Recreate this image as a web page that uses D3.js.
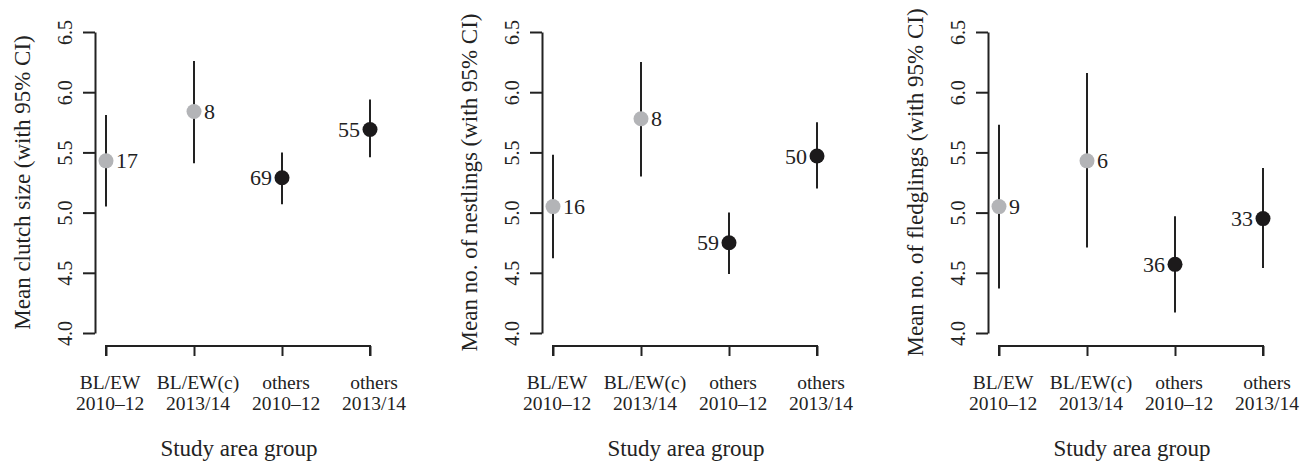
<!DOCTYPE html>
<html><head><meta charset="utf-8">
<script src="https://cdn.jsdelivr.net/npm/d3@7"></script>
<style>body{margin:0;background:#fff}</style>
</head><body><svg id="c" width="1311" height="464" style="font-family:'Liberation Serif',serif"></svg>
<script>
const categories = [["BL/EW","2010\u201312"],["BL/EW(c)","2013/14"],["others","2010\u201312"],["others","2013/14"]];
const yTicks = [4.0,4.5,5.0,5.5,6.0,6.5];
const groupColor = ["grey","grey","black","black"];
const labelSide = ["right","right","left","left"];
const yTitles = ["Mean clutch size (with 95% CI)","Mean no. of nestlings (with 95% CI)","Mean no. of fledglings (with 95% CI)"];
const xTitle = "Study area group";
// panel 1: clutch size
const clutchMean = [5.43, 5.84, 5.29, 5.69];
const clutchLo   = [5.05, 5.41, 5.07, 5.46];
const clutchHi   = [5.81, 6.26, 5.50, 5.94];
const clutchN    = [17, 8, 69, 55];
// panel 2: nestlings
const nestMean = [5.05, 5.78, 4.75, 5.47];
const nestLo   = [4.62, 5.30, 4.49, 5.20];
const nestHi   = [5.48, 6.25, 5.00, 5.75];
const nestN    = [16, 8, 59, 50];
// panel 3: fledglings
const fledMean = [5.05, 5.43, 4.57, 4.95];
const fledLo   = [4.37, 4.71, 4.17, 4.54];
const fledHi   = [5.73, 6.16, 4.97, 5.37];
const fledN    = [9, 6, 36, 33];

const panels = [
  {mean:clutchMean, lo:clutchLo, hi:clutchHi, n:clutchN, title:yTitles[0], x0:106},
  {mean:nestMean, lo:nestLo, hi:nestHi, n:nestN, title:yTitles[1], x0:553},
  {mean:fledMean, lo:fledLo, hi:fledHi, n:fledN, title:yTitles[2], x0:999}
];
const colors = {grey:"#b3b4b7", black:"#1c1a1b"};
const FONT = "Liberation Serif, serif";
const svg = d3.select("#c");
const y = d3.scaleLinear().domain([4,6.5]).range([333,32]);
const ink = "#222";
function txt(sel){ return sel.attr("font-family",FONT).style("font-family","'Liberation Serif', serif").attr("fill",ink); }

panels.forEach(p => {
  const g = svg.append("g");
  const x = d3.scalePoint().domain(d3.range(categories.length)).range([p.x0, p.x0+264]);
  const ax = p.x0 - 11;
  // y axis
  const ya = g.append("g").attr("transform",`translate(${ax},0)`)
    .call(d3.axisLeft(y).tickValues(yTicks).tickSize(12).tickSizeOuter(0).tickFormat(d3.format(".1f")));
  ya.attr("font-family",FONT);
  ya.select(".domain").attr("stroke",ink).attr("stroke-width",2);
  ya.selectAll(".tick line").attr("stroke",ink).attr("stroke-width",2);
  txt(ya.selectAll(".tick text")).attr("x",null).attr("dy",null)
    .attr("transform","translate(-30,0) rotate(-90)")
    .attr("text-anchor","middle").attr("dominant-baseline","central")
    .attr("font-size","20px");
  // x axis
  const xa = g.append("g").attr("transform",`translate(0,346)`)
    .call(d3.axisBottom(x).tickSize(10).tickSizeOuter(0).tickFormat(""));
  xa.select(".domain").attr("stroke",ink).attr("stroke-width",2).attr("d",`M${p.x0},10V0H${p.x0+264}V10`);
  xa.selectAll(".tick line").attr("stroke",ink).attr("stroke-width",2);
  categories.forEach((c,i) => {
    const t = txt(g.append("text")).attr("text-anchor","middle").attr("font-size","19.5px");
    t.append("tspan").attr("x",x(i)+4).attr("y",389).text(c[0]);
    t.append("tspan").attr("x",x(i)+4).attr("y",410).text(c[1]);
  });
  // titles
  txt(g.append("text")).attr("transform",`translate(${ax-73},182.5) rotate(-90)`)
    .attr("text-anchor","middle").attr("dominant-baseline","central")
    .attr("font-size","23px").text(p.title);
  txt(g.append("text")).attr("x",p.x0+133).attr("y",456).attr("text-anchor","middle")
    .attr("font-size","23px").text(xTitle);
  // error bars
  g.selectAll("line.ci").data(p.mean).enter().append("line")
    .attr("x1",(d,i)=>x(i)).attr("x2",(d,i)=>x(i))
    .attr("y1",(d,i)=>y(p.lo[i])).attr("y2",(d,i)=>y(p.hi[i]))
    .attr("stroke",ink).attr("stroke-width",2);
  g.selectAll("circle").data(p.mean).enter().append("circle")
    .attr("cx",(d,i)=>x(i)).attr("cy",d=>y(d)).attr("r",7.5)
    .attr("fill",(d,i)=>colors[groupColor[i]]);
  txt(g.selectAll("text.n").data(p.mean).enter().append("text"))
    .attr("x",(d,i)=> labelSide[i]==="right" ? x(i)+10 : x(i)-10)
    .attr("y",d=>y(d)).attr("dominant-baseline","central")
    .attr("text-anchor",(d,i)=> labelSide[i]==="right" ? "start":"end")
    .attr("font-size","22px").text((d,i)=>p.n[i]);
});
</script></body></html>
